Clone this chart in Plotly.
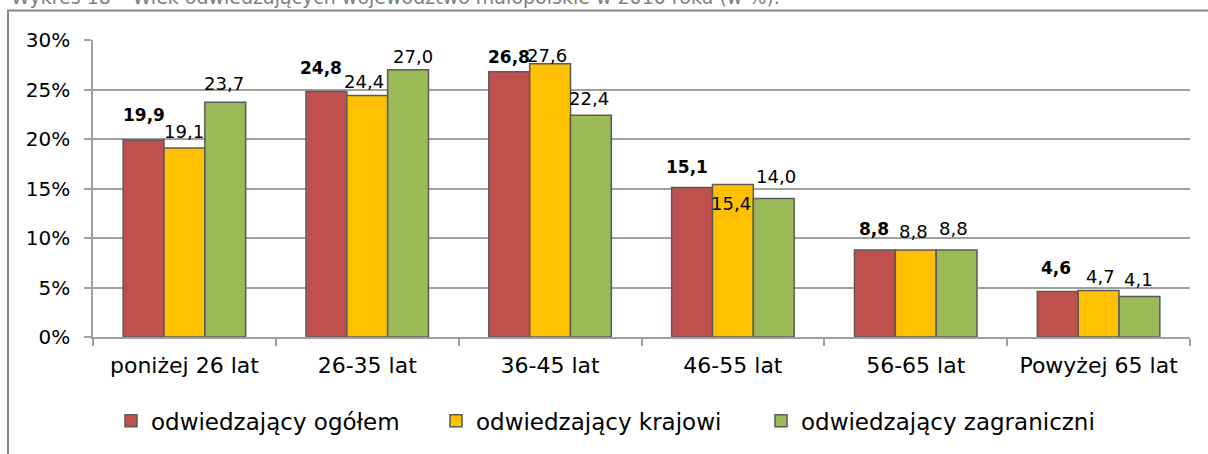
import plotly.graph_objects as go

categories = ["poniżej 26 lat", "26-35 lat", "36-45 lat", "46-55 lat", "56-65 lat", "Powyżej 65 lat"]
series_names = ["odwiedzający ogółem", "odwiedzający krajowi", "odwiedzający zagraniczni"]
ogolem = [19.9, 24.8, 26.8, 15.1, 8.8, 4.6]
krajowi = [19.1, 24.4, 27.6, 15.4, 8.8, 4.7]
zagraniczni = [23.7, 27.0, 22.4, 14.0, 8.8, 4.1]
y_ticks = [0, 5, 10, 15, 20, 25, 30]
y_tick_text = ["0%", "5%", "10%", "15%", "20%", "25%", "30%"]
title_text = "Wykres 18 – Wiek odwiedzających województwo małopolskie w 2010 roku (w %)."

series_values = [ogolem, krajowi, zagraniczni]
colors = ["#C0504D", "#FFC000", "#9BBB59"]
legend_widths = [280, 280, 340]
border = "#595959"
FONT = "DejaVu Sans"

# plot area in page pixels
PL, PR, PT, PB = 93, 1190, 40, 341
W, H = 1208, 454
PW, PH = PR - PL, PB - PT

def px_x(x):
    return (x - PL) / PW

def px_y(y):
    return (PB - y) / PH

# label placement tweaks (pixels): vertical centre above bar top, horizontal nudge
label_dy = [[25, 23, 15, 21, 21, 23],
            [16, 14, 8, -19, 18, 14],
            [19, 13, 17, 22, 21, 17]]
label_dx = [[1, -5, 0, -5, -1, -2],
            [0, -3, -3, -2, -2, 2],
            [-1, 5, -2, 2, -3, -1]]
bar_offset_px = [-41, 0, 41]

fig = go.Figure()
for name, vals, col, lw in zip(series_names, series_values, colors, legend_widths):
    fig.add_trace(go.Bar(
        x=categories, y=vals, name=name, legendwidth=lw,
        marker=dict(color=col, line=dict(color=border, width=1.5)),
    ))

annotations = []
for s, vals in enumerate(series_values):
    for i, v in enumerate(vals):
        annotations.append(dict(
            x=categories[i], y=v, xref="x", yref="y",
            text=(f"<b>{v:.1f}</b>" if s == 0 else f"{v:.1f}").replace(".", ","),
            showarrow=False, xanchor="center", yanchor="middle",
            xshift=bar_offset_px[s] + label_dx[s][i], yshift=label_dy[s][i],
            font=dict(family=FONT, size=18 if s else 17, color="#000000"),
        ))

annotations.append(dict(
    x=px_x(10), y=px_y(9), xref="paper", yref="paper",
    text=title_text, showarrow=False, xanchor="left", yanchor="bottom",
    borderpad=0, font=dict(family=FONT, size=19, color="#7f7f7f"),
))

fig.update_layout(
    width=W, height=H,
    margin=dict(l=PL, r=W - PR, t=PT, b=H - PB),
    paper_bgcolor="white", plot_bgcolor="white",
    barmode="group", bargap=0.33, bargroupgap=0,
    font=dict(family=FONT, size=20, color="#000000"),
    showlegend=True,
    legend=dict(orientation="h", x=px_x(111), xanchor="left", y=px_y(426), yanchor="middle",
                font=dict(family=FONT, size=23, color="#000000"),
                entrywidthmode="pixels",
                bgcolor="rgba(0,0,0,0)", tracegroupgap=0),
    annotations=annotations,
    shapes=[dict(type="rect", xref="paper", yref="paper",
                 x0=px_x(8), x1=px_x(1230), y0=px_y(480), y1=px_y(10),
                 line=dict(color="#868686", width=2), fillcolor="rgba(0,0,0,0)", layer="below")],
    xaxis=dict(
        type="category", showgrid=False, showline=True, linecolor="#a0a0a0", linewidth=1.5,
        ticks="outside", ticklen=7, tickcolor="#a0a0a0", tickwidth=1.5, tickson="boundaries",
        ticklabelstandoff=8,
        tickfont=dict(family=FONT, size=22, color="#000000"),
    ),
    yaxis=dict(
        range=[0, 30], tickvals=y_ticks, ticktext=y_tick_text,
        showgrid=True, gridcolor="#a0a0a0", gridwidth=1.5,
        showline=True, linecolor="#a0a0a0", linewidth=1.5,
        ticks="outside", ticklen=7, tickcolor="#a0a0a0", tickwidth=1.5,
        ticklabelstandoff=10,
        tickfont=dict(family=FONT, size=20, color="#000000"), zeroline=False,
    ),
)

fig.write_html("out.html", config={"displayModeBar": False},
               post_script="document.body.style.margin='0';")
